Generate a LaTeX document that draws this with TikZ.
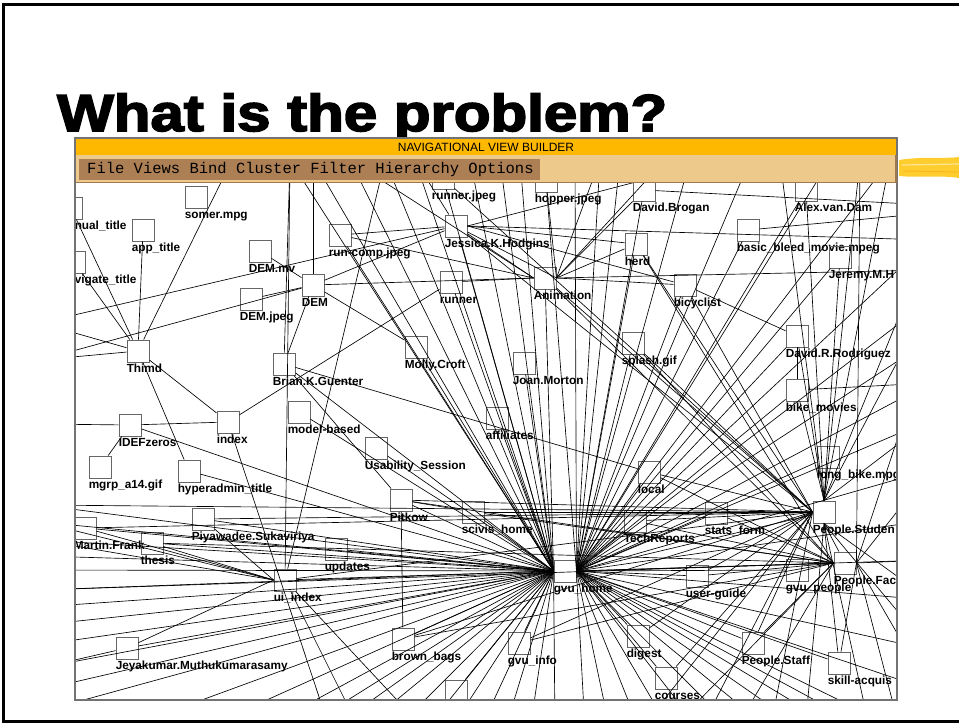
\documentclass[tikz,border=0pt]{standalone}
\usepackage{fontspec}
\setmainfont{Liberation Sans}
\newfontfamily\titlefont{Liberation Sans}[BoldFeatures={FakeBold=3}]
\newfontfamily\menufont{Liberation Mono}
\definecolor{titlebar}{RGB}{255,184,0}
\definecolor{menubar}{RGB}{238,201,140}
\definecolor{menubtn}{RGB}{173,127,84}
\definecolor{menuedge}{RGB}{160,120,80}
\definecolor{brush}{RGB}{255,205,45}

\begin{document}
\begin{tikzpicture}[x=1pt,y=-1pt,
  nbox/.style={draw=black!60, line width=0.9pt, minimum size=22pt},
  lbl/.style={anchor=north west, yshift=-1.5pt, text height=8.5pt, text depth=2.5pt,
    font=\fontsize{11.8}{12}\selectfont\bfseries},
  link/.style={black, line width=0.65pt}]
\tikzstyle{every node}+=[inner sep=0pt]
\useasboundingbox (0,0) rectangle (959,725);

% slide frame and title
\draw [line width=3pt] (959,5) -- (3.5,5) -- (3.5,721) -- (959,721);
\node [anchor=base west] (title) at (57,131)
  {\scalebox{1.2}[1.04]{\titlefont\bfseries\fontsize{50}{50}\selectfont What is the problem?}};

% brush stroke
\fill [brush] (899,160) .. controls (925,156) and (945,159) .. (959,157) -- (959,178)
  .. controls (940,175) and (920,178) .. (899,176) -- cycle;
\draw [brush!50!white, line width=1.2pt] (902,165) -- (959,164);
\draw [brush!70!orange, line width=1pt] (903,171) -- (959,172);

\begin{scope}
\clip (76,183) rectangle (896,699);

% loose ends past the canvas border
\coordinate (w1) at (40,323); \coordinate (w2) at (40,360); \coordinate (w3) at (40,424);
\coordinate (w4) at (40,505); \coordinate (w5) at (40,522); \coordinate (w6) at (40,540);
\coordinate (w7) at (40,556); \coordinate (w8) at (40,570); \coordinate (w9) at (40,590);
\coordinate (w10) at (40,607); \coordinate (w11) at (40,625); \coordinate (w12) at (40,645);
\coordinate (w13) at (40,668); \coordinate (w14) at (40,690); \coordinate (w15) at (40,712);
\coordinate (s1) at (120,730); \coordinate (s2) at (200,730); \coordinate (s3) at (260,730);
\coordinate (s4) at (300,730); \coordinate (s5) at (330,730); \coordinate (s6) at (360,730);
\coordinate (s7) at (395,730); \coordinate (s8) at (425,730); \coordinate (s9) at (450,730);
\coordinate (s10) at (480,730); \coordinate (s11) at (505,730); \coordinate (s12) at (530,730);
\coordinate (s13) at (555,730); \coordinate (s14) at (585,730); \coordinate (s15) at (610,730);
\coordinate (s16) at (640,730); \coordinate (s17) at (670,730); \coordinate (s18) at (700,730);
\coordinate (s19) at (735,730); \coordinate (s20) at (770,730); \coordinate (s21) at (805,730);
\coordinate (s22) at (840,730); \coordinate (s23) at (870,730); \coordinate (s24) at (900,730);
\coordinate (n1) at (100,160); \coordinate (n2) at (232,160); \coordinate (n3) at (290,160);
\coordinate (n4) at (313,160); \coordinate (n5) at (350,160); \coordinate (n6) at (385,160);
\coordinate (n7) at (415,160); \coordinate (n8) at (470,160); \coordinate (n9) at (500,160);
\coordinate (n10) at (520,160); \coordinate (n11) at (575,160); \coordinate (n12) at (600,160);
\coordinate (n13) at (620,160); \coordinate (n14) at (665,160); \coordinate (n15) at (690,160);
\coordinate (n16) at (720,160); \coordinate (n17) at (750,160); \coordinate (n18) at (780,160);
\coordinate (n19) at (830,160); \coordinate (n20) at (860,160); \coordinate (n21) at (890,160);
\coordinate (e1) at (930,205); \coordinate (e2) at (930,213); \coordinate (e3) at (930,240);
\coordinate (e4) at (930,270); \coordinate (e5) at (930,300); \coordinate (e6) at (930,340);
\coordinate (e7) at (930,383); \coordinate (e8) at (930,420); \coordinate (e9) at (930,470);
\coordinate (e10) at (930,520); \coordinate (e11) at (930,560); \coordinate (e12) at (930,600);
\coordinate (e13) at (930,650); \coordinate (e14) at (930,690);

% pages
\node [nbox] (somer) at (196,197) {};
\node [lbl] at (somer.south west) {somer.mpg};
\node [nbox] (nualt) at (71,208) {};
\node [lbl, xshift=15pt] at (nualt.south west) {nual\_title};
\node [nbox] (appt) at (143,230) {};
\node [lbl] at (appt.south west) {app\_title};
\node [nbox] (vigt) at (74,262) {};
\node [lbl, xshift=12pt] at (vigt.south west) {vigate\_title};
\node [nbox] (runcj) at (340,235) {};
\node [lbl] at (runcj.south west) {run-comp.jpeg};
\node [nbox] (demmv) at (260,251) {};
\node [lbl] at (demmv.south west) {DEM.mv};
\node [nbox] (demjp) at (251,299) {};
\node [lbl] at (demjp.south west) {DEM.jpeg};
\node [nbox] (dem) at (313,285) {};
\node [lbl] at (dem.south west) {DEM};
\node [nbox] (thimd) at (138,351) {};
\node [lbl] at (thimd.south west) {Thimd};
\node [nbox] (runjp) at (443,178) {};
\node [lbl] at (runjp.south west) {runner.jpeg};
\node [nbox] (hopjp) at (546,181) {};
\node [lbl] at (hopjp.south west) {hopper.jpeg};
\node [nbox] (brogan) at (644,190) {};
\node [lbl] at (brogan.south west) {David.Brogan};
\node [nbox] (avdam) at (806,190) {};
\node [lbl] at (avdam.south west) {Alex.van.Dam};
\node [nbox] (jkh) at (456,226) {};
\node [lbl] at (jkh.south west) {Jessica.K.Hodgins};
\node [nbox] (herd) at (636,244) {};
\node [lbl] at (herd.south west) {herd};
\node [nbox] (basic) at (748,230) {};
\node [lbl] at (basic.south west) {basic\_bleed\_movie.mpeg};
\node [nbox] (jmh) at (840,257) {};
\node [lbl] at (jmh.south west) {Jeremy.M.H};
\node [nbox] (runner) at (451,282) {};
\node [lbl] at (runner.south west) {runner};
\node [nbox] (anim) at (545,278) {};
\node [lbl] at (anim.south west) {Animation};
\node [nbox] (bicyc) at (685,285) {};
\node [lbl] at (bicyc.south west) {bicyclist};
\node [nbox] (molly) at (416,347) {};
\node [lbl] at (molly.south west) {Molly.Croft};
\node [nbox] (splash) at (633,343) {};
\node [lbl] at (splash.south west) {splash.gif};
\node [nbox] (drod) at (797,336) {};
\node [lbl] at (drod.south west) {David.R.Rodriguez};
\node [nbox] (joan) at (524,363) {};
\node [lbl] at (joan.south west) {Joan.Morton};
\node [nbox] (brian) at (284,364) {};
\node [lbl] at (brian.south west) {Brian.K.Guenter};
\node [nbox] (model) at (299,412) {};
\node [lbl] at (model.south west) {model-based};
\node [nbox] (index) at (228,422) {};
\node [lbl] at (index.south west) {index};
\node [nbox] (idef) at (130,425) {};
\node [lbl] at (idef.south west) {IDEFzeros};
\node [nbox] (affil) at (497,418) {};
\node [lbl] at (affil.south west) {affiliates};
\node [nbox] (bikem) at (797,390) {};
\node [lbl] at (bikem.south west) {bike\_movies};
\node [nbox] (usab) at (376,448) {};
\node [lbl] at (usab.south west) {Usability\_Session};
\node [nbox] (mgrp) at (100,467) {};
\node [lbl] at (mgrp.south west) {mgrp\_a14.gif};
\node [nbox] (hyper) at (189,471) {};
\node [lbl] at (hyper.south west) {hyperadmin\_title};
\node [nbox] (local) at (649,472) {};
\node [lbl] at (local.south west) {local};
\node [nbox] (longb) at (828,457) {};
\node [lbl] at (longb.south west) {long\_bike.mpg};
\node [nbox] (pitkow) at (401,500) {};
\node [lbl] at (pitkow.south west) {Pitkow};
\node [nbox] (scivis) at (473,512) {};
\node [lbl] at (scivis.south west) {scivis\_home};
\node [nbox] (stats) at (716,513) {};
\node [lbl] at (stats.south west) {stats\_form};
\node [nbox] (psd) at (824,512) {};
\node [lbl] at (psd.south west) {People.Studen};
\node [nbox] (tech) at (635,521) {};
\node [lbl] at (tech.south west) {TechReports};
\node [nbox] (piya) at (203,519) {};
\node [lbl] at (piya.south west) {Piyawadee.Sukaviriya};
\node [nbox] (mfrank) at (85,528) {};
\node [lbl] at (mfrank.south west) {Martin.Frank};
\node [nbox] (thesis) at (152,543) {};
\node [lbl] at (thesis.south west) {thesis};
\node [nbox] (updates) at (336,549) {};
\node [lbl] at (updates.south west) {updates};
\node [nbox] (gvu) at (565,571) {};
\node [lbl] at (gvu.south west) {gvu\_home};
\node [nbox] (pfc) at (845,563) {};
\node [lbl] at (pfc.south west) {People.Fac};
\node [nbox] (gvup) at (797,570) {};
\node [lbl] at (gvup.south west) {gvu\_people};
\node [nbox] (ugd) at (697,576) {};
\node [lbl] at (ugd.south west) {user-guide};
\node [nbox] (uiidx) at (285,580) {};
\node [lbl] at (uiidx.south west) {ui\_index};
\node [nbox] (digest) at (638,636) {};
\node [lbl] at (digest.south west) {digest};
\node [nbox] (brown) at (403,639) {};
\node [lbl] at (brown.south west) {brown\_bags};
\node [nbox] (gvuinfo) at (519,643) {};
\node [lbl] at (gvuinfo.south west) {gvu\_info};
\node [nbox] (pstaff) at (753,643) {};
\node [lbl] at (pstaff.south west) {People.Staff};
\node [nbox] (jey) at (127,648) {};
\node [lbl] at (jey.south west) {Jeyakumar.Muthukumarasamy};
\node [nbox] (skill) at (839,663) {};
\node [lbl] at (skill.south west) {skill-acquis};
\node [nbox] (courses) at (666,678) {};
\node [lbl] at (courses.south west) {courses};
\node [nbox] (spare) at (456,691) {};

% links out of gvu_home
\draw [link] (gvu.west) edge (w4) edge (w5) edge (w6) edge (w7) edge (w8) edge (w9) edge (w10)
  edge (w11) edge (w12) edge (w13) edge (w14) edge (w15) edge (mfrank) edge (thesis) edge (piya)
  edge (uiidx) edge (jey) edge (brown) edge (updates) edge (pitkow) edge (scivis) edge (usab)
  edge (model) edge (affil) edge (joan) edge (molly) edge (hyper) edge (idef) edge (brian);
\draw [link] (gvu.west) edge (s1) edge (s2) edge (s3) edge (s4) edge (s5) edge (s6) edge (s7)
  edge (s8) edge (s9) edge (s10) edge (s11) edge (s12) edge (s13) edge (gvuinfo) edge (spare)
  edge (n3) edge (n4) edge (n5) edge (n6) edge (n7) edge (n8) edge (n9) edge (n10) edge (anim)
  edge (jkh) edge (runner) edge (runjp) edge (runcj);
\draw [link] (gvu.east) edge (psd) edge (pfc) edge (gvup) edge (ugd) edge (stats) edge (tech)
  edge (local) edge (splash) edge (herd) edge (bicyc) edge (brogan) edge (drod) edge (bikem)
  edge (longb) edge (avdam) edge (jmh) edge (basic) edge (hopjp) edge (n11) edge (n12);
\draw [link] (gvu.east) edge (e3) edge (e5) edge (e6) edge (e7) edge (e8) edge (e9) edge (e10)
  edge (e11) edge (e12) edge (e13) edge (e14) edge (s14) edge (s15) edge (s16) edge (s17)
  edge (s18) edge (s19) edge (s20) edge (s21) edge (s22) edge (s23) edge (s24) edge (digest)
  edge (courses) edge (pstaff) edge (skill) edge (n13) edge (n15) edge (n17) edge (n19) edge (n21);

% People.Studen and People.Fac
\draw [link] (psd.west) edge (pitkow) edge (scivis) edge (tech) edge (stats) edge (local)
  edge (uiidx) edge (mfrank) edge (w4) edge (splash) edge (bicyc) edge (anim) edge (herd)
  edge (ugd) edge (pstaff) edge (digest) edge (courses) edge (s16) edge (s18) edge (s20)
  edge (gvuinfo) edge (brown) edge (piya) edge (runjp) edge (jkh);
\draw [link] (psd.north) edge (longb) edge (bikem) edge (drod) edge (avdam) edge (jmh)
  edge (n18) edge (n20) edge (n21) edge (e3) edge (e5) edge (e8);
\draw [link] (psd.south) edge (skill) edge (pfc) edge (s21) edge (s23) edge (e12) edge (e13);
\draw [link] (pfc.west) edge (pitkow) edge (scivis) edge (ugd) edge (w9) edge (thesis)
  edge (stats) edge (tech) edge (local) edge (herd) edge (s17) edge (s19) edge (pstaff)
  edge (brown) edge (gvuinfo) edge (anim) edge (splash);
\draw [link] (pfc.east) edge (e6) edge (e9) edge (e11) edge (e14) edge (skill) edge (s24) edge (n20);

% Animation, Jessica.K.Hodgins, DEM
\draw [link] (anim.west) edge (jkh) edge (runner) edge (dem) edge (runcj) edge (n5);
\draw [link] (anim.east) edge (herd) edge (jkh) edge (bicyc) edge (brogan) edge (e4) edge (n14)
  edge (hopjp) edge (n12);
\draw [link] (jkh.east) edge (herd) edge (e3) edge (n16) edge (bicyc);
\draw [link] (jkh) edge (dem) edge (runcj) edge (n7) edge (w1);
\draw [link] (dem) edge (demmv) edge (demjp) edge (n4) edge (brian) edge (molly) edge (w2);
\draw [link] (brogan) edge (e1);
\draw [link] (basic) edge (e2);
\draw [link] (bicyc) edge (drod);
\draw [link] (drod) edge (bikem);
\draw [link] (bikem) edge (e7);

% left side
\draw [link] (thimd) edge (nualt) edge (vigt) edge (appt) edge (index) edge (hyper) edge (w1)
  edge (w2) edge (n2);
\draw [link] (idef) edge (w3) edge (index) edge (mgrp);
\draw [link] (index) edge (runner) edge (s5);
\draw [link] (brian) edge (local) edge (pitkow) edge (n3);
\draw [link] (uiidx.west) edge (mfrank) edge (thesis) edge (piya) edge (w5) edge (w6) edge (jey);
\draw [link] (uiidx) edge (n3) edge (n6) edge (s6) edge (s8);
\draw [link] (jey) edge (w13);
\draw [link] (pitkow) edge (brown) edge (scivis);
\end{scope}

% window
\draw [black!55, line width=1.5pt] (75,138) rectangle (897,700);
\fill [titlebar] (76,139) rectangle (896,155);
\node (wintitle) at (486,147.5) {\fontsize{12}{12}\selectfont NAVIGATIONAL VIEW BUILDER};
\fill [menubar] (76,155) rectangle (896,183);
\draw [menuedge, line width=1.2pt] (76,182.5) -- (896,182.5) -- (896,155);
\fill [menubtn] (79,159) rectangle (540,180);
\node [anchor=west] (menu) at (87,169.5)
  {\menufont\fontsize{15.5}{16}\selectfont File Views Bind Cluster Filter Hierarchy Options};
\end{tikzpicture}
\end{document}
